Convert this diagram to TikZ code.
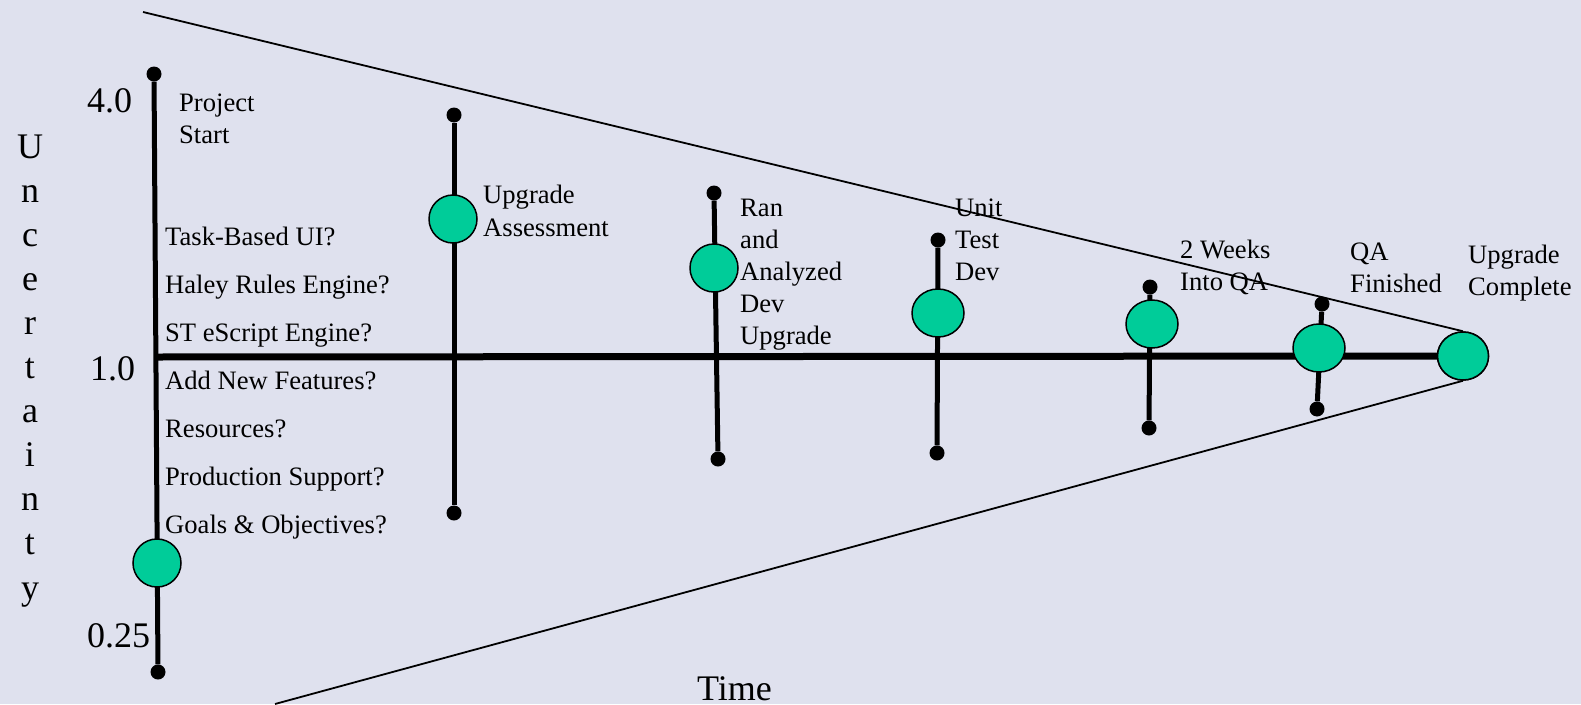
\documentclass[tikz,border=0pt]{standalone}
\usepackage{fontspec}
\setmainfont{Liberation Serif}
\usetikzlibrary{shapes.geometric}
\definecolor{bg}{RGB}{223,225,238}
\definecolor{mgreen}{RGB}{0,204,153}
\begin{document}
\begin{tikzpicture}[x=1pt,y=-1pt,
  enddot/.style={circle,fill=black,inner sep=0,minimum size=15},
  mile/.style={ellipse,draw=black,line width=1.5,fill=mgreen,inner sep=0,minimum width=#1,minimum height=48},
  mile/.default=48,
  stem/.style={line width=5},
  funnel/.style={line width=1.8},
  lbl/.style={anchor=base west,inner sep=0,align=left,font=\fontsize{26.6}{32}\selectfont},
  axl/.style={anchor=base west,inner sep=0,font=\fontsize{36}{44}\selectfont}]
\fill[bg] (0,0) rectangle (1581,704);
\useasboundingbox (0,0) rectangle (1581,704);
% end dots
\node[enddot] (pst) at (154,74) {};
\node[enddot] (psb) at (158,672) {};
\node[enddot] (uat) at (454,115) {};
\node[enddot] (uab) at (454,513) {};
\node[enddot] (rat) at (714,193) {};
\node[enddot] (rab) at (718,459) {};
\node[enddot] (utt) at (938,240) {};
\node[enddot] (utb) at (937,453) {};
\node[enddot] (twt) at (1150,287) {};
\node[enddot] (twb) at (1149,428) {};
\node[enddot] (qat) at (1322,304) {};
\node[enddot] (qab) at (1317,409) {};
% stems
\draw[stem] (pst) -- (psb);
\draw[stem] (uat) -- (uab);
\draw[stem] (rat) -- (rab);
\draw[stem] (utt) -- (utb);
\draw[stem] (twt) -- (twb);
\draw[stem] (qat) -- (qab);
% final milestone and lines
\node[mile=51] (uc) at (1463,356) {};
\coordinate (ml) at (156,357);
\coordinate (ft) at (143,12);
\coordinate (fb) at (275,704);
\draw[line width=7] (ml) -- (uc.west);
\draw[funnel] (ft) -- (uc.north);
\draw[funnel] (fb) -- (uc.south);
\node[mile=51] at (uc) {};
% milestones
\node[mile] (ps) at (157,563) {};
\node[mile] (ua) at (453,219) {};
\node[mile] (ra) at (714,268) {};
\node[mile=52] (ut) at (938,313) {};
\node[mile=52] (tw) at (1152,324) {};
\node[mile=52] (qa) at (1319,348) {};
% labels (anchor = baseline of the last line)
\node[lbl] (lps) at (179,143) {Project\\Start};
\node[lbl,font=\fontsize{26.6}{48}\selectfont] (lq) at (165,533) {Task-Based UI?\\Haley Rules Engine?\\ST eScript Engine?\\Add New Features?\\Resources?\\Production Support?\\Goals \& Objectives?};
\node[lbl,font=\fontsize{26.6}{33}\selectfont] (lua) at (483,236) {Upgrade\\Assessment};
\node[lbl] (lra) at (740,344) {Ran\\and\\Analyzed\\Dev\\Upgrade};
\node[lbl] (lut) at (955,280) {Unit\\Test\\Dev};
\node[lbl] (ltw) at (1180,290) {2 Weeks\\Into QA};
\node[lbl] (lqa) at (1350,292) {QA\\Finished};
\node[lbl] (luc) at (1468,295) {Upgrade\\Complete};
% axes
\node[axl] (a4) at (87,112) {4.0};
\node[axl] (a1) at (90,380) {1.0};
\node[axl] (a025) at (87,647) {0.25};
\node[axl] (time) at (697,700) {Time};
\node[anchor=base,inner sep=0,align=center,font=\fontsize{36}{44.1}\selectfont] (unc) at (30,599) {U\\n\\c\\e\\r\\t\\a\\i\\n\\t\\y};
\end{tikzpicture}
\end{document}
